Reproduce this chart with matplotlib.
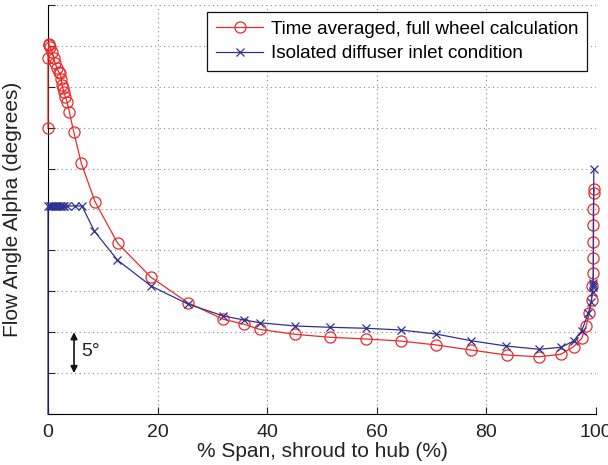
import matplotlib
matplotlib.use("Agg")
import matplotlib.pyplot as plt

plt.rcParams['font.family'] = ['Liberation Sans', 'DejaVu Sans']

# Time averaged, full wheel calculation (red circles)
red_x = [0.0, 0.0, 0.13, 0.24, 0.42, 0.73, 1.04, 1.33, 1.64, 1.95, 2.24, 2.40, 2.55, 2.70,
         2.86, 3.16, 3.47, 3.89, 4.69, 6.08, 8.58, 12.72, 18.8, 25.5, 32.0, 35.8, 38.6,
         45.1, 51.5, 58.0, 64.4, 70.8, 77.2, 83.7, 89.6, 93.6, 95.9, 97.4, 98.2, 98.8,
         99.2, 99.3, 99.5, 99.5, 99.5, 99.5, 99.5, 99.6, 99.7]
red_y = [34.93, 43.48, 45.23, 45.05, 44.83, 44.29, 43.48, 42.87, 42.26, 41.8, 41.65, 41.0,
         40.22, 39.9, 39.40, 38.79, 38.18, 36.96, 34.51, 30.65, 25.95, 20.87, 16.71, 13.61,
         11.58, 10.97, 10.35, 9.74, 9.38, 9.17, 8.92, 8.44, 7.82, 7.21, 7.00, 7.30, 8.23,
         9.25, 10.76, 12.31, 13.94, 15.65, 17.20, 19.03, 21.06, 23.11, 25.02, 27.05, 27.47]

# Isolated diffuser inlet condition (blue crosses)
blue_x = [0.0, 0.0, 0.3, 0.6, 0.9, 1.2, 1.5, 1.8, 2.1, 2.4, 2.7, 3.0, 3.4, 5.0, 6.2, 8.45,
          12.65, 18.8, 25.5, 32.0, 35.8, 38.6, 45.1, 51.5, 58.0, 64.4, 70.8, 77.2, 83.6,
          89.6, 93.6, 95.9, 97.4, 98.6, 99.1, 99.4, 99.5, 99.5, 99.5, 99.6]
blue_y = [0.0, 25.43, 25.43, 25.43, 25.43, 25.43, 25.43, 25.43, 25.43, 25.43, 25.43, 25.43,
          25.43, 25.43, 25.43, 22.37, 18.83, 15.65, 13.45, 11.98, 11.49, 11.16, 10.76, 10.6,
          10.48, 10.27, 9.78, 8.96, 8.31, 7.91, 8.15, 8.92, 10.18, 12.31, 13.73, 14.95,
          15.5, 15.8, 16.0, 29.91]

x_ticks = [0, 20, 40, 60, 80, 100]
y_ticks = [0, 5, 10, 15, 20, 25, 30, 35, 40, 45, 50]

red_c = '#ec2a2a'
blue_c = '#2e3192'

fig = plt.figure(figsize=(6.08, 4.65), dpi=100)
ax = fig.add_axes([48/608, 51/465, 548/608, 409/465])

ax.plot(red_x, red_y, color=red_c, lw=0.9, marker='o', ms=8, mfc='none', mec=red_c,
        mew=0.9, label='Time averaged, full wheel calculation', clip_on=False, zorder=3)
ax.plot(blue_x, blue_y, color=blue_c, lw=0.9, marker='x', ms=6, mec=blue_c, mew=0.9,
        markevery=list(range(1, len(blue_x))),
        label='Isolated diffuser inlet condition', clip_on=False, zorder=4)

ax.set_xlim(0, 100)
ax.set_ylim(0, 50)
ax.set_xticks(x_ticks)
ax.set_yticks(y_ticks)
ax.set_yticklabels([])
ax.tick_params(direction='in', length=5, width=0.8, labelsize=14, colors='#222222', pad=7)
ax.grid(True, linestyle=(0, (1, 3)), color='#888888', lw=0.8)
ax.spines['top'].set_visible(False)
ax.spines['right'].set_visible(False)
ax.set_xlabel('% Span, shroud to hub (%)', fontsize=15, color='#222222', labelpad=1)
ax.set_ylabel('Flow Angle Alpha (degrees)', fontsize=15, color='#222222', labelpad=12)

ax.annotate('', xy=(4.75, 5), xytext=(4.75, 10),
            arrowprops=dict(arrowstyle='<|-|>', color='#111111', lw=1.2,
                            mutation_scale=10, shrinkA=0, shrinkB=0))
ax.text(6.0, 7.6, '5°', fontsize=14, va='center', ha='left', color='#222222')

leg = ax.legend(loc='upper right', bbox_to_anchor=(0.983, 0.983), fontsize=13.6,
                frameon=True, fancybox=False, edgecolor='#111111', framealpha=1,
                borderpad=0.45, labelspacing=0.4, handlelength=2.5, handletextpad=0.4,
                borderaxespad=0)
leg.get_frame().set_linewidth(0.9)

fig.savefig('out.png', dpi=100)
